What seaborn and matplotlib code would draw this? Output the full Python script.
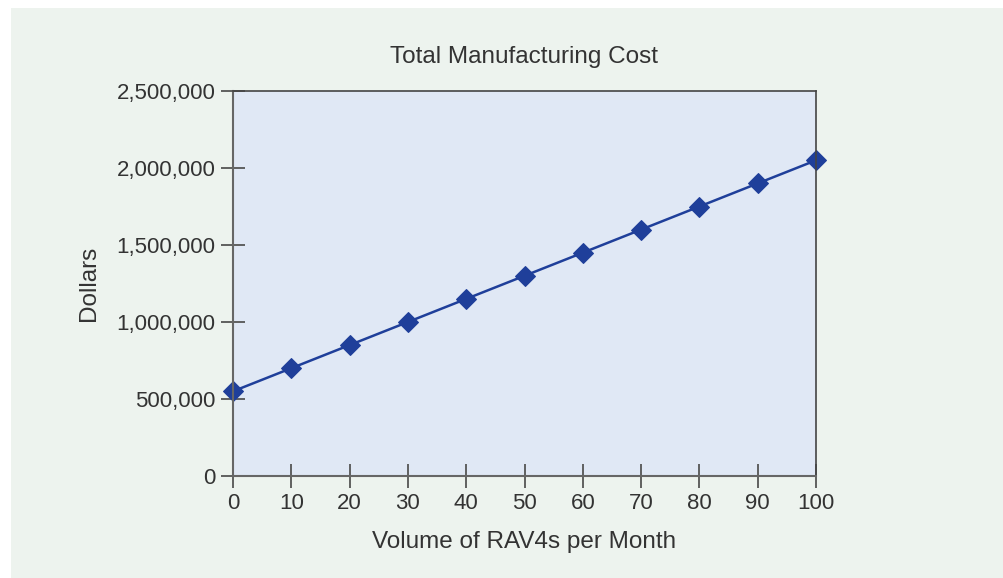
import matplotlib
matplotlib.use("Agg")
import matplotlib.pyplot as plt
import matplotlib.ticker as mticker
from matplotlib.patches import Rectangle
import pandas as pd
import seaborn as sns

# volume of RAV4s per month and total manufacturing cost in dollars
volume = [0, 10, 20, 30, 40, 50, 60, 70, 80, 90, 100]
cost = [550000, 700000, 850000, 1000000, 1150000, 1300000,
        1450000, 1600000, 1750000, 1900000, 2050000]

df = pd.DataFrame({"Volume": volume, "Cost": cost})

sns.set_style("ticks")
plt.rcParams["font.family"] = ["Liberation Sans", "DejaVu Sans"]
plt.rcParams["text.color"] = "#333333"
plt.rcParams["axes.labelcolor"] = "#333333"
plt.rcParams["xtick.color"] = "#555555"
plt.rcParams["ytick.color"] = "#555555"
plt.rcParams["xtick.labelcolor"] = "#333333"
plt.rcParams["ytick.labelcolor"] = "#333333"

fig = plt.figure(figsize=(10.04, 5.78), dpi=100, facecolor="white")
# light green panel behind the chart
fig.patches.append(Rectangle((11 / 1004, 0), 1 - 11 / 1004, 1 - 8 / 578,
                             transform=fig.transFigure, facecolor="#EDF3EE",
                             edgecolor="none", zorder=-10))
ax = fig.add_axes([233 / 1004, 1 - 476 / 578, 583 / 1004, 385 / 578])
ax.set_facecolor("#E0E8F5")

sns.lineplot(data=df, x="Volume", y="Cost", ax=ax, color="#1F3F9A",
             marker="D", markersize=10, markeredgecolor="#1F3F9A",
             linewidth=1.8, clip_on=False)

ax.set_xlim(0, 100)
ax.set_ylim(0, 2500000)
ax.set_xticks(range(0, 101, 10))
ax.set_yticks(range(0, 2500001, 500000))
ax.yaxis.set_major_formatter(mticker.FuncFormatter(lambda v, p: f"{int(v):,}"))
ax.tick_params(direction="inout", length=17, width=1.3, labelsize=16, pad=4)

for side in ["left", "bottom"]:
    ax.spines[side].set_color("#666666")
    ax.spines[side].set_linewidth(1.5)
for side in ["top", "right"]:
    ax.spines[side].set_visible(True)
    ax.spines[side].set_color("#444444")
    ax.spines[side].set_linewidth(1.2)

ax.set_title("Total Manufacturing Cost", fontsize=17.5, pad=20)
ax.set_xlabel("Volume of RAV4s per Month", fontsize=17.5, labelpad=12)
ax.set_ylabel("Dollars", fontsize=17.5, labelpad=12)

plt.savefig("out.png", dpi=100, facecolor=fig.get_facecolor())
